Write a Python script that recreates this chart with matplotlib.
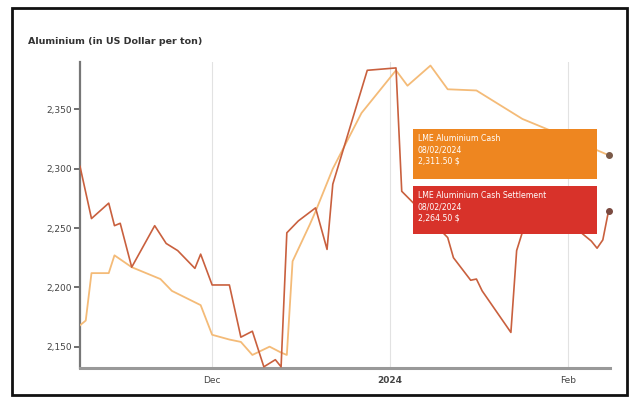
import matplotlib
matplotlib.use("Agg")
import matplotlib.pyplot as plt
import matplotlib.dates as mdates
from matplotlib.patches import Rectangle
import pandas as pd

# ---- data ----
cash_dates = ["2023-11-08", "2023-11-09", "2023-11-10", "2023-11-13", "2023-11-14",
              "2023-11-17", "2023-11-22", "2023-11-24", "2023-11-29", "2023-12-01",
              "2023-12-04", "2023-12-06", "2023-12-08", "2023-12-11", "2023-12-13",
              "2023-12-14", "2023-12-15", "2023-12-18", "2023-12-19", "2023-12-22",
              "2023-12-27", "2024-01-02", "2024-01-04", "2024-01-08", "2024-01-11",
              "2024-01-16", "2024-01-24", "2024-01-29", "2024-02-08"]
cash_values = [2168, 2172, 2212, 2212, 2227,
               2217, 2207, 2197, 2185, 2160,
               2156, 2154, 2143, 2150, 2145,
               2143, 2222, 2253, 2264, 2300,
               2347, 2383, 2370, 2387, 2367,
               2366, 2342, 2332, 2311.5]

settle_dates = ["2023-11-08", "2023-11-09", "2023-11-10", "2023-11-13", "2023-11-14",
                "2023-11-15", "2023-11-17", "2023-11-21", "2023-11-23", "2023-11-25",
                "2023-11-28", "2023-11-29", "2023-12-01", "2023-12-04", "2023-12-06",
                "2023-12-08", "2023-12-10", "2023-12-12", "2023-12-13", "2023-12-14",
                "2023-12-16", "2023-12-19", "2023-12-21", "2023-12-22", "2023-12-28",
                "2024-01-02", "2024-01-03", "2024-01-11", "2024-01-12", "2024-01-15",
                "2024-01-16", "2024-01-17", "2024-01-22", "2024-01-23", "2024-01-25",
                "2024-01-29", "2024-02-01", "2024-02-05", "2024-02-06", "2024-02-07",
                "2024-02-08"]
settle_values = [2302, 2280, 2258, 2271, 2252,
                 2254, 2217, 2252, 2237, 2231,
                 2216, 2228, 2202, 2202, 2158,
                 2163, 2133, 2139, 2133, 2246,
                 2256, 2267, 2232, 2287, 2383,
                 2385, 2281, 2242, 2225, 2206,
                 2207, 2197, 2162, 2231, 2262,
                 2258, 2255, 2239, 2233, 2240,
                 2264.5]

y_ticks = [2150, 2200, 2250, 2300, 2350]
x_tick_dates = ["2023-12-01", "2024-01-01", "2024-02-01"]
x_tick_labels = ["Dec", "2024", "Feb"]

title = "Aluminium (in US Dollar per ton)"
tip_cash = ["LME Aluminium Cash", "08/02/2024", "2,311.50 $"]
tip_settle = ["LME Aluminium Cash Settlement", "08/02/2024", "2,264.50 $"]

# ---- figure ----
W, H = 629, 397
fig = plt.figure(figsize=(W / 100, H / 100), dpi=100)
fig.patch.set_facecolor("white")

def fx(px):
    return px / W

def fy(py):
    return 1 - py / H

ax = fig.add_axes([fx(80), fy(368), fx(610) - fx(80), fy(62) - fy(368)])

cd = pd.to_datetime(cash_dates)
sd = pd.to_datetime(settle_dates)

peach = "#f4bb78"
dark = "#c9603e"
ax.plot(cd, cash_values, color=peach, lw=1.3, zorder=3)
ax.plot(sd, settle_values, color=dark, lw=1.2, zorder=4)

ax.set_xlim(pd.Timestamp("2023-11-08"), pd.Timestamp("2024-02-08 06:00"))
ax.set_ylim(2132, 2390)

ax.set_yticks(y_ticks)
ax.set_yticklabels([f"{v:,}" for v in y_ticks], fontsize=6.5, color="#444444")
xt = pd.to_datetime(x_tick_dates)
ax.set_xticks(xt)
ax.set_xticklabels(x_tick_labels, fontsize=6.5, color="#444444")
for lbl in ax.get_xticklabels():
    if lbl.get_text() == "2024":
        lbl.set_fontweight("bold")

ax.tick_params(axis="y", direction="out", length=4, width=1.2, color="#555555", pad=2)
ax.tick_params(axis="x", length=0, pad=6)
for x in xt:
    ax.axvline(x, color="#e2e2e2", lw=0.8, zorder=1)

for s in ["top", "right"]:
    ax.spines[s].set_visible(False)
ax.spines["left"].set_color("#777777")
ax.spines["left"].set_linewidth(1.6)
ax.spines["bottom"].set_color("#999999")
ax.spines["bottom"].set_linewidth(2.2)

# end markers
ax.plot(cd[-1], cash_values[-1], "o", ms=4, color="#7a5a48", zorder=6, clip_on=False)
ax.plot(sd[-1], settle_values[-1], "o", ms=4, color="#7a4a40", zorder=6, clip_on=False)

# title
fig.text(fx(28), fy(42), title, fontsize=6.8, fontweight="bold", color="#333333",
         va="center", ha="left")

# tooltips
def tooltip(x0, y0, x1, y1, color, lines):
    fig.patches.append(Rectangle((fx(x0), fy(y1)), fx(x1) - fx(x0), fy(y0) - fy(y1),
                                 transform=fig.transFigure, facecolor=color,
                                 edgecolor="none", zorder=10))
    fig.text(fx(x0 + 5), fy(y0 + 5), "\n".join(lines), fontsize=5.6, color="white",
             va="top", ha="left", linespacing=1.35, zorder=11)

tooltip(413, 129, 597, 179, "#ee8620", tip_cash)
tooltip(413, 186, 597, 234, "#d8322a", tip_settle)

# outer frame
fig.patches.append(Rectangle((fx(12), fy(395)), fx(627) - fx(12), fy(8) - fy(395),
                             transform=fig.transFigure, facecolor="none",
                             edgecolor="#111111", lw=2.0, zorder=20))

fig.savefig("out.png", dpi=100)
